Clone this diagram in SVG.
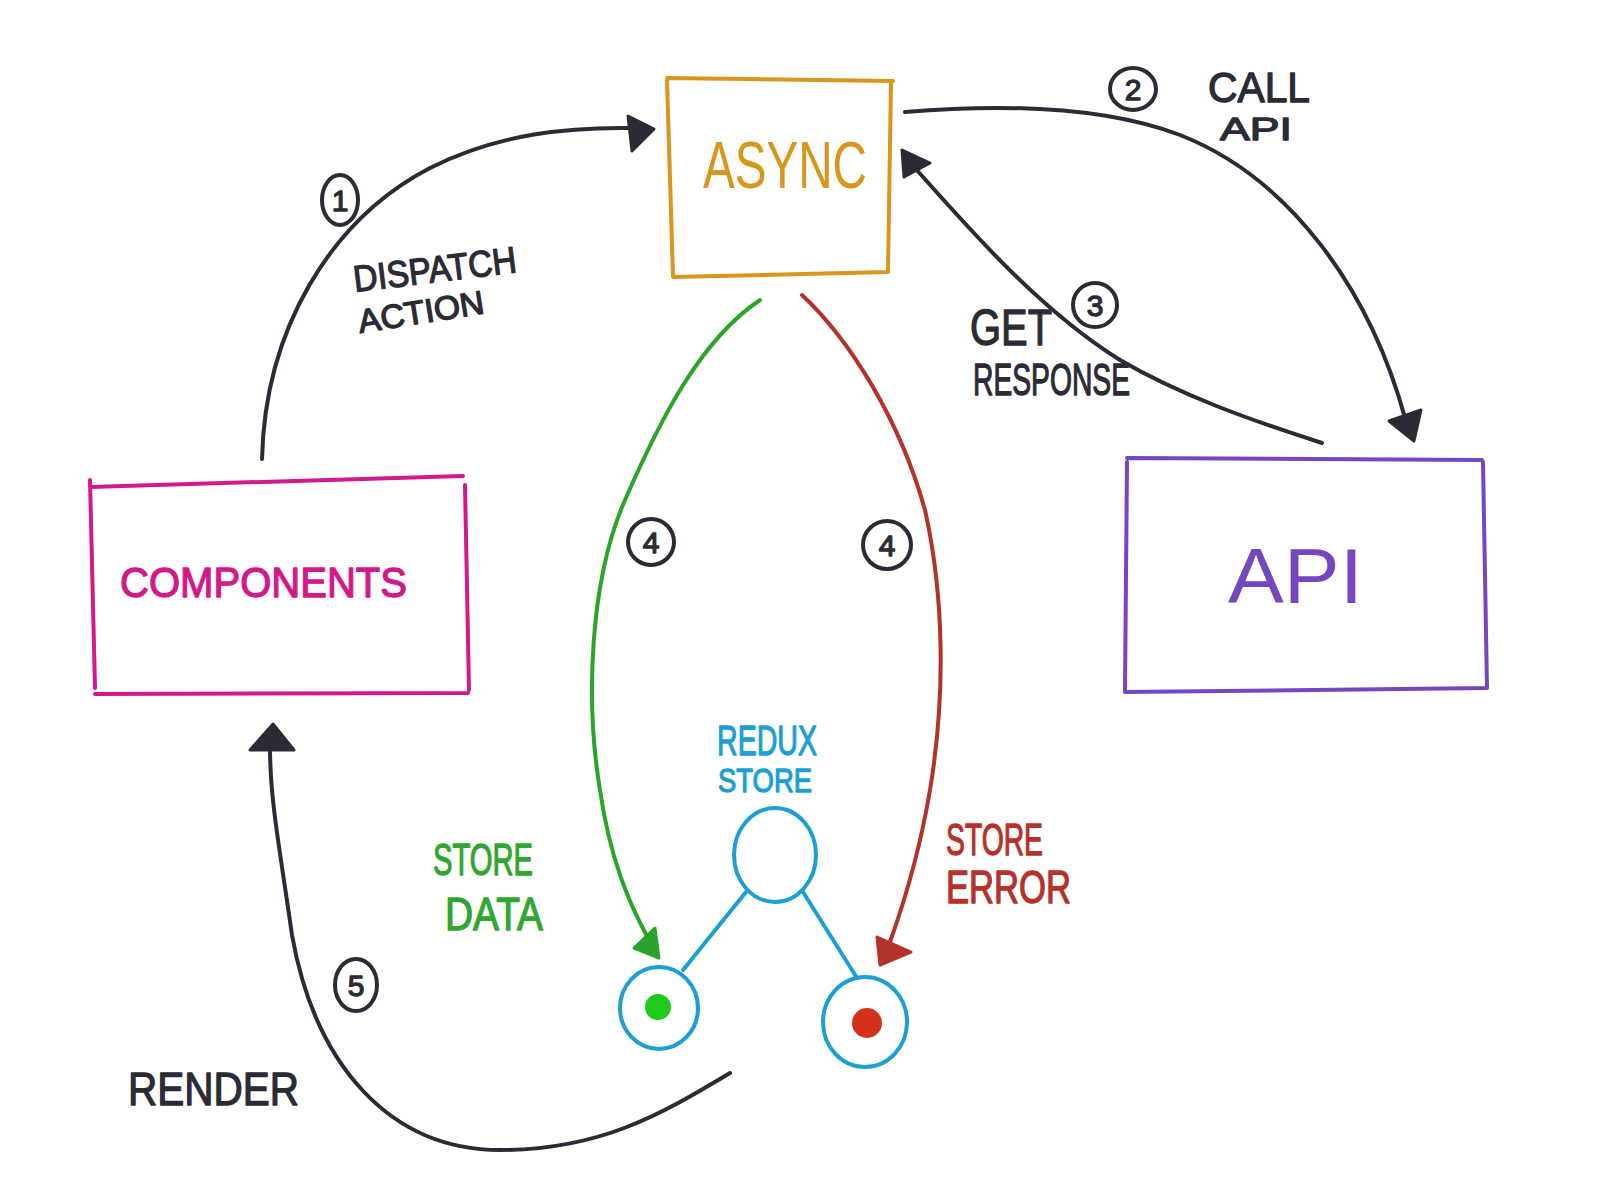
<svg xmlns="http://www.w3.org/2000/svg" width="1600" height="1200" viewBox="0 0 1600 1200">
<style>
.t{font-family:"Liberation Sans","DejaVu Sans",sans-serif;}
.b{stroke-width:1.3;stroke-linejoin:round}
.ink{fill:#2b2a35;stroke:#2b2a35}
.box{fill:none;stroke-width:4;stroke-linecap:round;stroke-linejoin:round}
.con{fill:none;stroke-width:4;stroke-linecap:round}
.head{stroke-width:3;stroke-linejoin:round}
.num{fill:none;stroke:#2b2a35;stroke-width:4}
</style>
<rect width="1600" height="1200" fill="#ffffff"/>

<g id="connectors">
  <g id="arrow1">
    <path class="con" stroke="#2b2a35" d="M262,459 C265,330 330,220 430,168 C500,133 570,127 632,128"/>
    <polygon class="head" fill="#2b2a35" stroke="#2b2a35" points="628,116 654,129 632,151"/>
  </g>
  <g id="arrow2">
    <path class="con" stroke="#2b2a35" d="M905,112 C1000,104 1100,105 1180,135 C1290,178 1370,290 1405,418"/>
    <polygon class="head" fill="#2b2a35" stroke="#2b2a35" points="1389,421 1421,410 1414,441"/>
  </g>
  <g id="arrow3">
    <path class="con" stroke="#2b2a35" d="M1322,443 C1250,420 1180,395 1120,360 C1040,310 970,230 915,168"/>
    <polygon class="head" fill="#2b2a35" stroke="#2b2a35" points="902,150 930,163 904,177"/>
  </g>
  <g id="arrow4-data">
    <path class="con" stroke="#2aa52a" d="M760,300 C700,340 660,420 625,500 C590,580 585,700 600,790 C610,860 630,905 648,938"/>
    <polygon class="head" fill="#2aa52a" stroke="#2aa52a" points="634,948 655,928 659,958"/>
  </g>
  <g id="arrow4-error">
    <path class="con" stroke="#b5322a" d="M802,295 C850,340 900,420 925,510 C945,600 945,700 930,790 C920,850 905,900 890,942"/>
    <polygon class="head" fill="#b5322a" stroke="#b5322a" points="877,937 911,952 880,965"/>
  </g>
  <g id="arrow5">
    <path class="con" stroke="#2b2a35" d="M730,1073 C660,1115 600,1150 500,1150 C390,1150 315,1065 292,935 C280,850 270,800 270,748"/>
    <polygon class="head" fill="#2b2a35" stroke="#2b2a35" points="273,724 294,750 250,750"/>
  </g>
  <g id="store-links">
    <line class="con" stroke="#1e9fd4" x1="746" y1="892" x2="683" y2="970"/>
    <line class="con" stroke="#1e9fd4" x1="803" y1="892" x2="857" y2="978"/>
  </g>
</g>

<g id="async">
  <path class="box" stroke="#d8961c" d="M667,78 L893,81 M891,81 L888,272 M888,272 L673,277 M673,277 L667,80"/>
  <text class="t" x="703" y="188" font-size="66" fill="#d8961c" textLength="164" lengthAdjust="spacingAndGlyphs">ASYNC</text>
</g>

<g id="api">
  <path class="box" stroke="#7546c0" d="M1127,458 L1482,460 M1483,462 L1487,688 M1487,688 L1125,692 M1125,692 L1127,462"/>
  <text class="t" x="1228" y="603" font-size="78" fill="#7546c0" textLength="135" lengthAdjust="spacingAndGlyphs">API</text>
</g>

<g id="components">
  <path class="box" stroke="#d3188a" d="M90,487 L463,476 M465,485 L469,690 M468,693 L95,694 M95,688 L90,480"/>
  <text class="t b" x="120" y="597" font-size="42" fill="#d3188a" stroke="#d3188a" textLength="287" lengthAdjust="spacingAndGlyphs">COMPONENTS</text>
</g>

<g id="redux-store">
  <text class="t b" x="717" y="755" font-size="42" fill="#1e9fd4" stroke="#1e9fd4" textLength="100" lengthAdjust="spacingAndGlyphs">REDUX</text>
  <text class="t b" x="718" y="792" font-size="34" fill="#1e9fd4" stroke="#1e9fd4" textLength="94" lengthAdjust="spacingAndGlyphs">STORE</text>
  <ellipse cx="775" cy="855" rx="41" ry="47" fill="none" stroke="#1e9fd4" stroke-width="4"/>
</g>

<g id="data-node">
  <ellipse cx="659" cy="1008" rx="39" ry="41" fill="none" stroke="#1e9fd4" stroke-width="4"/>
  <circle cx="658" cy="1007" r="13" fill="#1dcc1d"/>
</g>

<g id="error-node">
  <ellipse cx="865" cy="1022" rx="42" ry="45" fill="none" stroke="#1e9fd4" stroke-width="4"/>
  <circle cx="867" cy="1023" r="15" fill="#d4301c"/>
</g>

<g id="labels">
  <ellipse class="num" cx="340" cy="200" rx="18" ry="25"/>
  <text class="t b ink" x="340" y="211" font-size="30" text-anchor="middle">1</text>
  <text class="t b ink" x="355" y="292" font-size="37" transform="rotate(-7 355 292)" textLength="164" lengthAdjust="spacingAndGlyphs">DISPATCH</text>
  <text class="t b ink" x="360" y="333" font-size="33" transform="rotate(-9 360 333)" textLength="127" lengthAdjust="spacingAndGlyphs">ACTION</text>

  <ellipse class="num" cx="1133" cy="89" rx="23" ry="21"/>
  <text class="t b ink" x="1133" y="100" font-size="30" text-anchor="middle">2</text>
  <text class="t b ink" x="1208" y="102" font-size="42" textLength="102" lengthAdjust="spacingAndGlyphs">CALL</text>
  <text class="t b ink" x="1220" y="140" font-size="32" textLength="72" lengthAdjust="spacingAndGlyphs">API</text>

  <ellipse class="num" cx="1095" cy="305" rx="22" ry="22"/>
  <text class="t b ink" x="1095" y="316" font-size="30" text-anchor="middle">3</text>
  <text class="t b ink" x="970" y="345" font-size="50" textLength="82" lengthAdjust="spacingAndGlyphs">GET</text>
  <text class="t b ink" x="973" y="395" font-size="44" textLength="157" lengthAdjust="spacingAndGlyphs">RESPONSE</text>

  <ellipse class="num" cx="651" cy="542" rx="23" ry="23"/>
  <text class="t b ink" x="651" y="553" font-size="30" text-anchor="middle">4</text>
  <ellipse class="num" cx="887" cy="545" rx="24" ry="24"/>
  <text class="t b ink" x="887" y="556" font-size="30" text-anchor="middle">4</text>

  <text class="t b" x="433" y="875" font-size="44" fill="#30a630" stroke="#30a630" textLength="100" lengthAdjust="spacingAndGlyphs">STORE</text>
  <text class="t b" x="445" y="930" font-size="46" fill="#30a630" stroke="#30a630" textLength="98" lengthAdjust="spacingAndGlyphs">DATA</text>

  <text class="t b" x="946" y="855" font-size="44" fill="#b5322a" stroke="#b5322a" textLength="97" lengthAdjust="spacingAndGlyphs">STORE</text>
  <text class="t b" x="946" y="903" font-size="46" fill="#b5322a" stroke="#b5322a" textLength="125" lengthAdjust="spacingAndGlyphs">ERROR</text>

  <ellipse class="num" cx="356" cy="985" rx="21" ry="26"/>
  <text class="t b ink" x="356" y="996" font-size="30" text-anchor="middle">5</text>
  <text class="t b ink" x="128" y="1105" font-size="46" textLength="171" lengthAdjust="spacingAndGlyphs">RENDER</text>
</g>
</svg>
